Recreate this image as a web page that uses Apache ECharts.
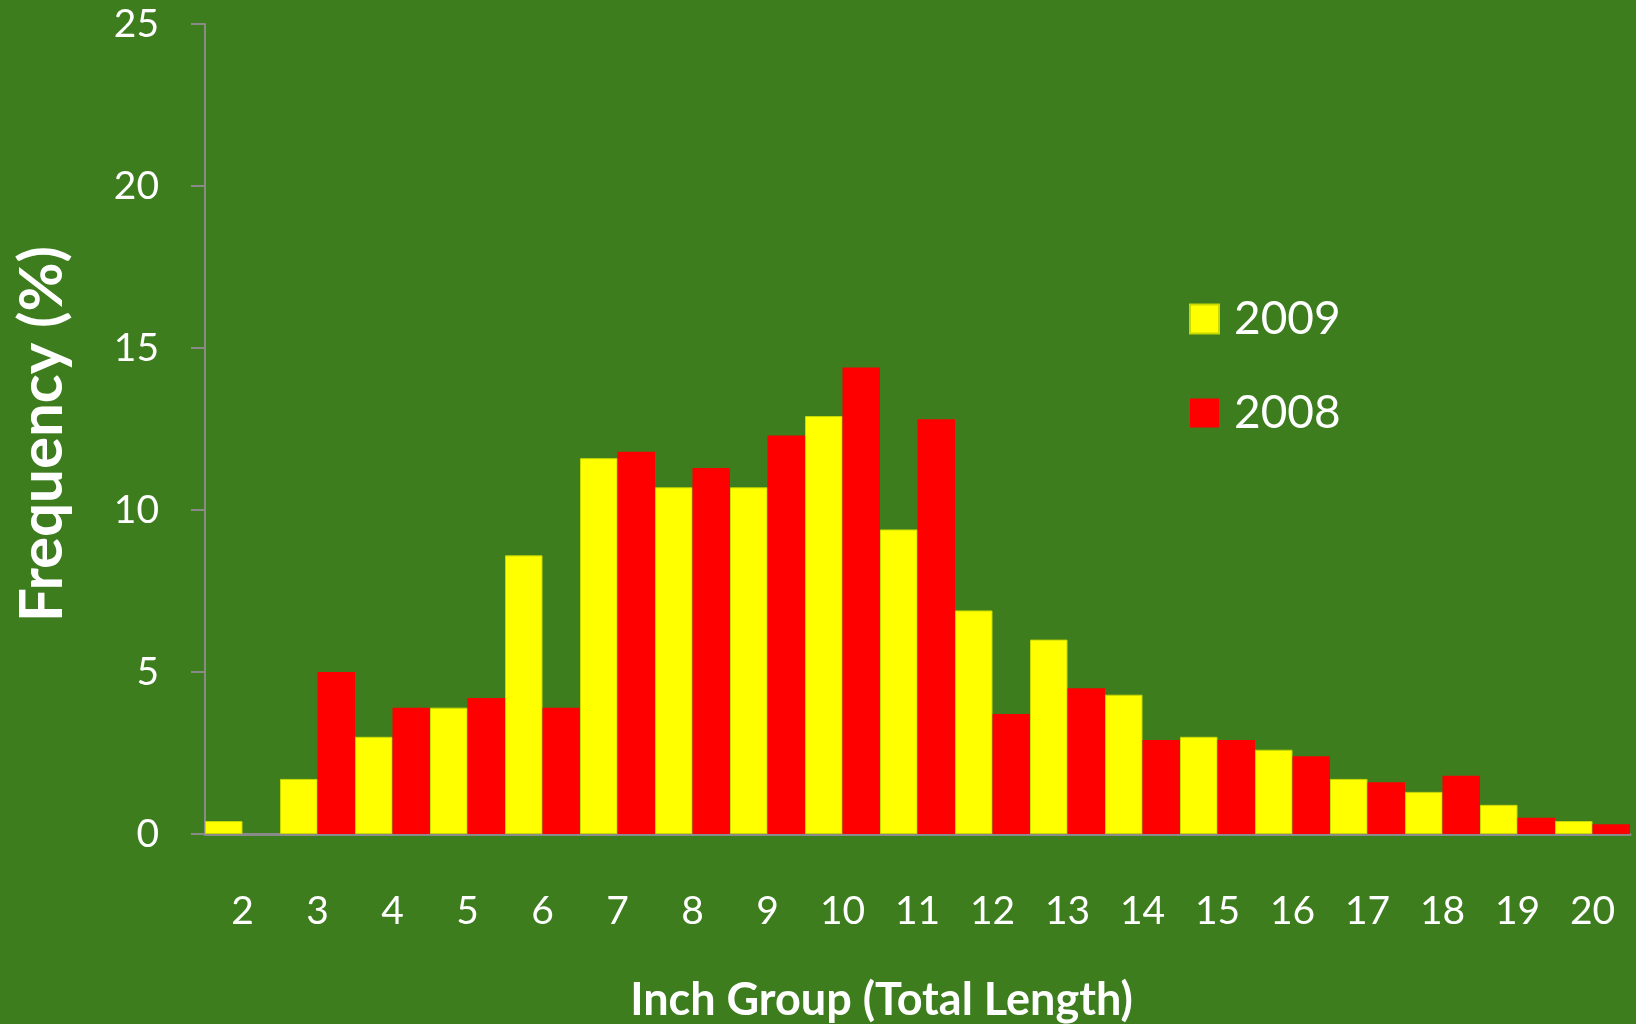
<!DOCTYPE html>
<html>
<head>
<meta charset="utf-8">
<script src="https://cdn.jsdelivr.net/npm/echarts@6/dist/echarts.min.js"></script>
<style>
  html, body { margin: 0; padding: 0; background: #3d7d1e; }
  #chart { width: 1636px; height: 1024px; }
</style>
</head>
<body>
<div id="chart"></div>
<script>
const inchGroups = ['2', '3', '4', '5', '6', '7', '8', '9', '10', '11', '12', '13', '14', '15', '16', '17', '18', '19', '20']
const freq2009 = [0.4, 1.7, 3.0, 3.9, 8.6, 11.6, 10.7, 10.7, 12.9, 9.4, 6.9, 6.0, 4.3, 3.0, 2.6, 1.7, 1.3, 0.9, 0.4]
const freq2008 = [0, 5.0, 3.9, 4.2, 3.9, 11.8, 11.3, 12.3, 14.4, 12.8, 3.7, 4.5, 2.9, 2.9, 2.4, 1.6, 1.8, 0.5, 0.3]

const font = 'Lato, "Open Sans", sans-serif'
const axisGray = '#8a8a8a'

const chart = echarts.init(document.getElementById('chart'))

chart.setOption({
  backgroundColor: '#3d7d1e',
  animation: false,
  textStyle: { fontFamily: font },
  grid: { left: 205, right: 6, top: 24, bottom: 190, outerBoundsMode: 'none' },
  legend: {
    orient: 'vertical',
    left: 1184,
    top: 291,
    itemWidth: 29,
    itemHeight: 29,
    itemGap: 48,
    icon: 'rect',
    textStyle: { color: '#fff', fontSize: 46, fontFamily: font, padding: [0, 0, 0, 10] },
    data: ['2009', '2008']
  },
  xAxis: {
    type: 'category',
    data: inchGroups,
    axisTick: { show: false },
    axisLine: { show: true, lineStyle: { color: axisGray, width: 3 } },
    axisLabel: { color: '#fff', fontSize: 39, margin: 58, fontFamily: font },
    name: 'Inch Group (Total Length)',
    nameLocation: 'middle',
    nameGap: 144,
    nameTextStyle: { color: '#fff', fontSize: 45, fontWeight: 'bold', fontFamily: font, padding: [0, 72, 0, 0] }
  },
  yAxis: {
    type: 'value',
    min: 0,
    max: 25,
    interval: 5,
    splitLine: { show: false },
    axisLine: { show: true, lineStyle: { color: axisGray, width: 2 } },
    axisTick: { show: true, length: 14, lineStyle: { color: axisGray, width: 2 } },
    axisLabel: { color: '#fff', fontSize: 39, margin: 46, fontFamily: font },
    name: 'Frequency (%)',
    nameLocation: 'middle',
    nameGap: 132,
    nameTextStyle: { color: '#fff', fontSize: 60, fontWeight: 'bold', fontFamily: font, padding: [0, 10, 0, 0] }
  },
  series: [
    {
      name: '2009',
      type: 'bar',
      data: freq2009,
      barGap: '0%',
      barCategoryGap: '0%',
      itemStyle: { color: '#ffff00', borderColor: '#c8d800', borderWidth: 1 }
    },
    {
      name: '2008',
      type: 'bar',
      data: freq2008,
      barGap: '0%',
      barCategoryGap: '0%',
      itemStyle: { color: '#ff0000' }
    }
  ]
})
</script>
</body>
</html>
